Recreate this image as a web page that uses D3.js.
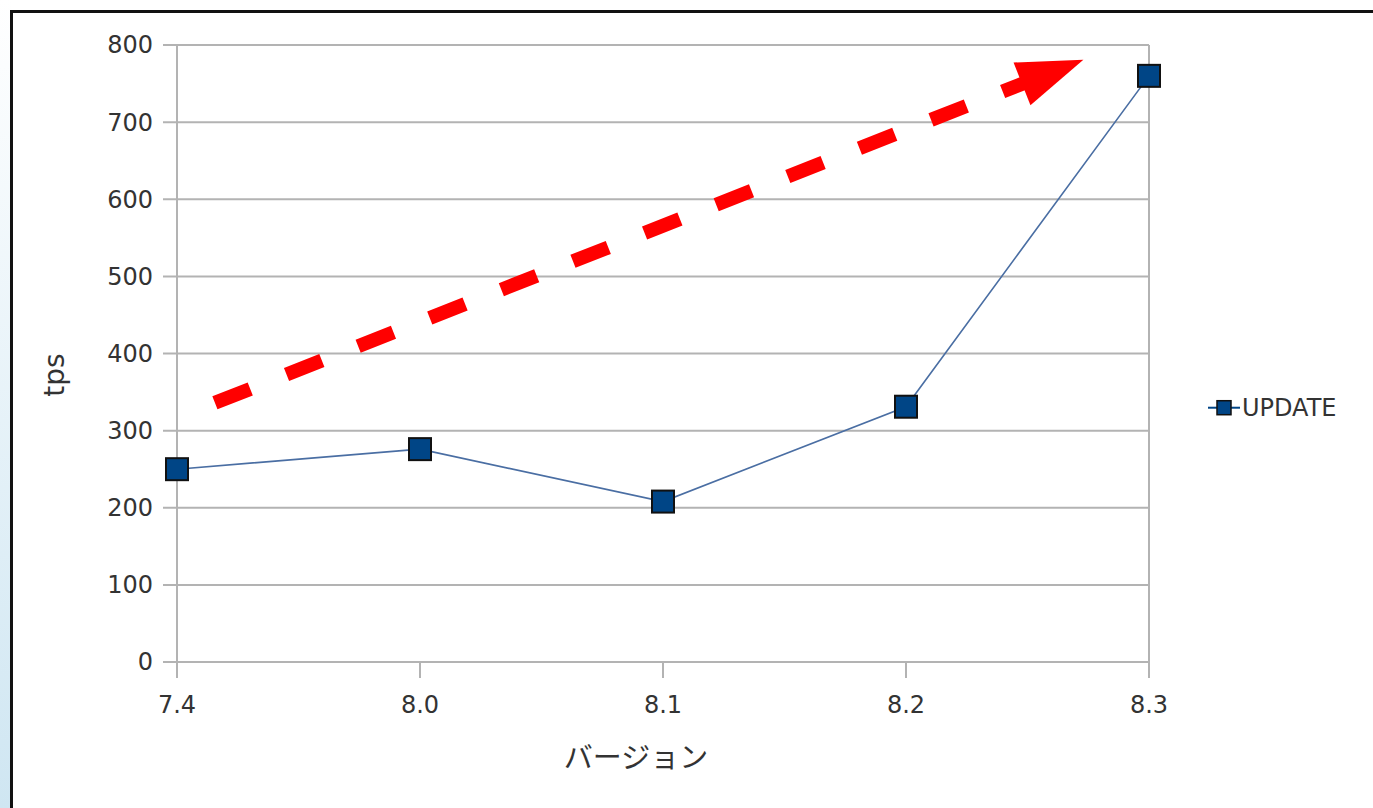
<!DOCTYPE html>
<html>
<head>
<meta charset="utf-8">
<script src="https://cdn.jsdelivr.net/npm/d3@7"></script>
<style>
  body { margin: 0; background: #fff; }
  svg text { font-family: "DejaVu Sans", sans-serif; fill: #333; }
</style>
</head>
<body>
<svg id="chart"></svg>
<script>
const versions = ['7.4', '8.0', '8.1', '8.2', '8.3'];
const updateTps = [250, 276, 208, 331, 760];
const yTicks = [0, 100, 200, 300, 400, 500, 600, 700, 800];
const seriesName = 'UPDATE';
// annotation arrow, in data units (category index, tps)
const arrowFrom = [0.156, 336];
const arrowTo = [3.73, 781];

const width = 1373, height = 808;
const margin = { left: 177, right: 224, top: 45, bottom: 146 };
const svg = d3.select('#chart').attr('width', width).attr('height', height);

// page background strip + frame
const grad = svg.append('defs').append('linearGradient').attr('id', 'bg')
  .attr('x1', 0).attr('y1', 0).attr('x2', 0).attr('y2', 1);
grad.append('stop').attr('offset', '0%').attr('stop-color', '#ffffff');
grad.append('stop').attr('offset', '100%').attr('stop-color', '#cfe6f2');
svg.append('rect').attr('x', 0).attr('y', 0).attr('width', 11).attr('height', height).attr('fill', 'url(#bg)');
svg.append('rect').attr('x', 11.5).attr('y', 11.5).attr('width', width + 20).attr('height', height + 20)
  .attr('fill', '#fff').attr('stroke', '#111').attr('stroke-width', 3);

const x = d3.scaleLinear().domain([0, versions.length - 1]).range([margin.left, width - margin.right]);
const y = d3.scaleLinear().domain([0, 800]).range([height - margin.bottom, margin.top]);

// grid
svg.append('g').selectAll('line').data(yTicks).enter().append('line')
  .attr('x1', x(0) - 14).attr('x2', x(versions.length - 1))
  .attr('y1', d => y(d)).attr('y2', d => y(d))
  .attr('stroke', '#b3b3b3').attr('stroke-width', 2);
svg.append('line').attr('x1', x(versions.length - 1)).attr('x2', x(versions.length - 1))
  .attr('y1', y(800)).attr('y2', y(0)).attr('stroke', '#b3b3b3').attr('stroke-width', 2);
svg.append('g').selectAll('line').data(versions).enter().append('line')
  .attr('x1', (d, i) => x(i)).attr('x2', (d, i) => x(i))
  .attr('y1', (d, i) => i === 0 ? y(800) : y(0)).attr('y2', y(0) + 16)
  .attr('stroke', '#b3b3b3').attr('stroke-width', 2);

// tick labels
svg.append('g').selectAll('text').data(yTicks).enter().append('text')
  .attr('x', x(0) - 24).attr('y', d => y(d)).attr('dy', '0.35em')
  .attr('text-anchor', 'end').attr('font-size', 24).text(d => d);
svg.append('g').selectAll('text').data(versions).enter().append('text')
  .attr('x', (d, i) => x(i)).attr('y', y(0) + 51)
  .attr('text-anchor', 'middle').attr('font-size', 24).text(d => d);

// axis titles
svg.append('text').attr('transform', 'translate(64,375) rotate(-90)')
  .attr('text-anchor', 'middle').attr('font-size', 28).text('tps');
svg.append('text').attr('x', 636).attr('y', 768)
  .attr('text-anchor', 'middle').attr('font-size', 29)
  .style('font-family', '"Noto Sans CJK JP", sans-serif').text('バージョン');

// series
const line = d3.line().x((d, i) => x(i)).y(d => y(d));
svg.append('path').datum(updateTps).attr('d', line)
  .attr('fill', 'none').attr('stroke', '#4a6ea3').attr('stroke-width', 1.6);
const sq = 22;
svg.append('g').selectAll('rect').data(updateTps).enter().append('rect')
  .attr('x', (d, i) => x(i) - sq / 2).attr('y', d => y(d) - sq / 2)
  .attr('width', sq).attr('height', sq)
  .attr('fill', '#004586').attr('stroke', '#111').attr('stroke-width', 2);

// legend
const lg = svg.append('g').attr('transform', `translate(1208,${y(331) + 1})`);
lg.append('line').attr('x1', 0).attr('x2', 32).attr('stroke', '#004586').attr('stroke-width', 2);
lg.append('rect').attr('x', 9).attr('y', -7).attr('width', 14).attr('height', 14)
  .attr('fill', '#004586').attr('stroke', '#111').attr('stroke-width', 1.5);
lg.append('text').attr('x', 34).attr('dy', '0.35em').attr('font-size', 24).text(seriesName);

// red dashed arrow annotation
const x0 = x(arrowFrom[0]), y0 = y(arrowFrom[1]);
const x1 = x(arrowTo[0]), y1 = y(arrowTo[1]);
const ang = Math.atan2(y1 - y0, x1 - x0);
const headLen = 66, headHalf = 23;
const bx = x1 - headLen * Math.cos(ang), by = y1 - headLen * Math.sin(ang);
svg.append('line').attr('x1', x0).attr('y1', y0).attr('x2', bx + 8 * Math.cos(ang)).attr('y2', by + 8 * Math.sin(ang))
  .attr('stroke', '#ff0000').attr('stroke-width', 14).attr('stroke-dasharray', '38 39');
const px = -Math.sin(ang), py = Math.cos(ang);
svg.append('path')
  .attr('d', `M${x1},${y1}L${bx + headHalf * px},${by + headHalf * py}L${bx - headHalf * px},${by - headHalf * py}Z`)
  .attr('fill', '#ff0000');
</script>
</body>
</html>
